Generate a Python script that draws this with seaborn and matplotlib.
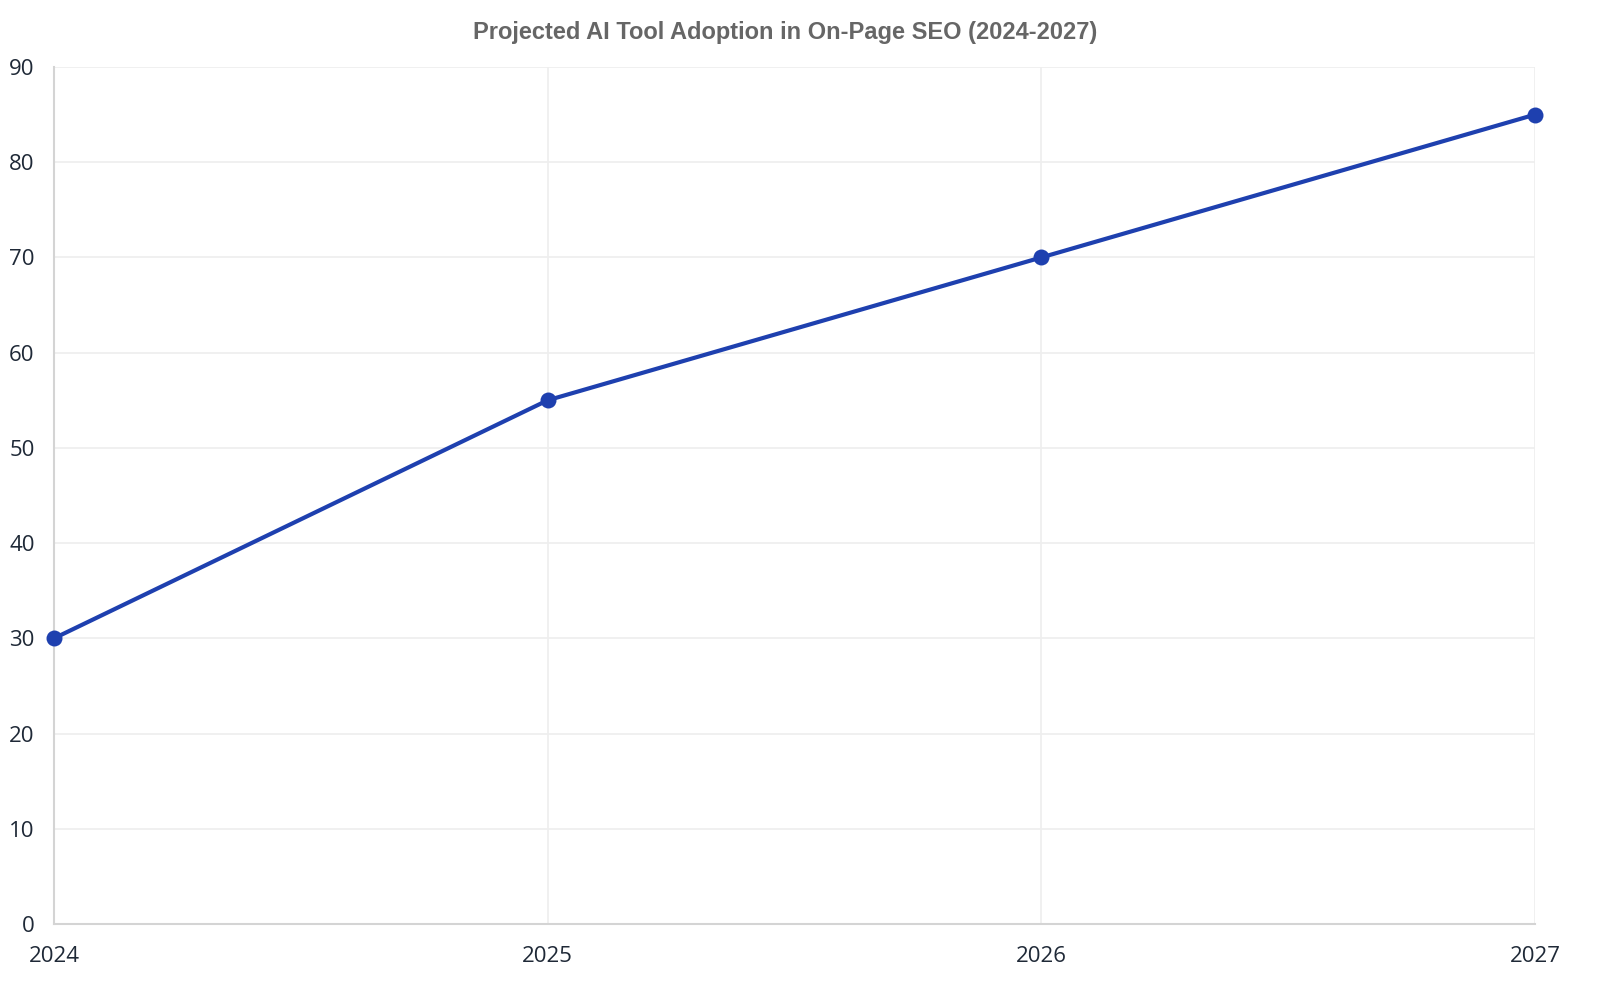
import matplotlib
matplotlib.use("Agg")
import matplotlib.pyplot as plt
import seaborn as sns
import pandas as pd

years = [2024, 2025, 2026, 2027]
adoption = [30, 55, 70, 85]
y_ticks = [0, 10, 20, 30, 40, 50, 60, 70, 80, 90]
title = "Projected AI Tool Adoption in On-Page SEO (2024-2027)"

sns.set_theme(style="white")
plt.rcParams['font.family'] = ['Open Sans', 'DejaVu Sans']

df = pd.DataFrame({"year": years, "adoption": adoption})

fig = plt.figure(figsize=(16, 10), dpi=100)
ax = fig.add_axes([54/1600, 76/1000, (1535-54)/1600, (924-67)/1000])

line_color = "#1e40af"
sns.lineplot(data=df, x="year", y="adoption", ax=ax, color=line_color,
             linewidth=3, marker="o", markersize=11.5, markeredgewidth=0,
             zorder=3, clip_on=False)

ax.set_xlim(years[0], years[-1])
ax.set_ylim(0, 90)
ax.set_xticks(years)
ax.set_xticklabels([str(y) for y in years])
ax.set_yticks(y_ticks)
ax.set_xlabel("")
ax.set_ylabel("")

ax.grid(True, color="#eeeeee", linewidth=1.2, zorder=0)
for s in ["top", "right"]:
    ax.spines[s].set_visible(False)
for s in ["left", "bottom"]:
    ax.spines[s].set_color("#d4d4d4")
    ax.spines[s].set_linewidth(1.5)

ax.tick_params(axis="both", which="both", length=10, width=1.2,
               color="#eeeeee", labelsize=16, labelcolor="#1f2937", pad=4)
ax.tick_params(axis="x", pad=6)

fig.text(785/1600, 1 - 33/1000, title, ha="center", va="center",
         fontsize=17, fontweight="bold", color="#666666",
         family=["Liberation Sans", "DejaVu Sans"])

fig.savefig("out.png", dpi=100, facecolor="white")
